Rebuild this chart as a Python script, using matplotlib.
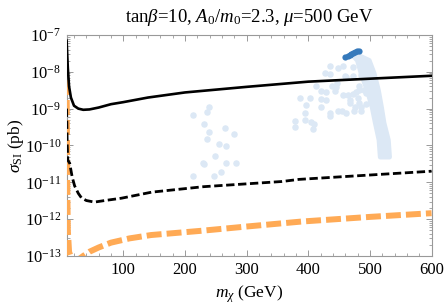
import matplotlib
matplotlib.use("Agg")
import matplotlib.pyplot as plt
from matplotlib.ticker import MultipleLocator, LogLocator, NullFormatter

plt.rcParams['font.family'] = ['Liberation Serif', 'DejaVu Serif']
plt.rcParams['mathtext.fontset'] = 'custom'
plt.rcParams['mathtext.rm'] = 'Liberation Serif'
plt.rcParams['mathtext.it'] = 'Liberation Serif:italic'
plt.rcParams['mathtext.bf'] = 'Liberation Serif:bold'

# limit curves: mass (GeV) and sigma_SI (pb)
solid_m = [8, 10, 12, 15, 20, 27, 35, 45, 60, 80, 100, 140, 200, 300, 400, 500, 600]
solid_s = [7.0e-8, 1.25e-8, 4.0e-9, 2.0e-9, 1.2e-9, 1.0e-9, 9.3e-10, 9.5e-10, 1.07e-9,
           1.32e-9, 1.5e-9, 2.0e-9, 2.75e-9, 3.9e-9, 5.4e-9, 6.5e-9, 7.8e-9]

dash_m = [8, 9, 10, 13, 17, 21, 27, 32, 40, 53, 70, 97, 146, 230, 357, 385, 600]
dash_s = [1.0e-9, 1.0e-10, 4.0e-11, 3.3e-11, 1.4e-11, 8.0e-12, 5.0e-12, 3.8e-12, 3.2e-12,
          2.9e-12, 3.2e-12, 3.7e-12, 5.4e-12, 7.6e-12, 1.05e-11, 1.2e-11, 2.0e-11]

orange_m = [8, 9, 10, 12, 15, 20, 27, 35, 45, 60, 80, 110, 145, 225, 300, 389, 500, 600]
orange_s = [6.0e-9, 1.0e-11, 5.0e-13, 1.3e-13, 9.0e-14, 7.5e-14, 8.0e-14, 1.0e-13, 1.3e-13,
            1.7e-13, 2.3e-13, 3.0e-13, 3.7e-13, 4.8e-13, 6.3e-13, 8.6e-13, 1.15e-12, 1.45e-12]

# scan points (light)
pts_m = [239, 213, 235, 231, 239, 265, 279, 235, 256, 266, 248, 230, 231, 266, 282, 258, 213, 247,
         435, 449, 457, 472, 427, 436, 460, 473, 485, 412, 438, 445, 482, 421, 428, 443, 457, 465,
         472, 478, 483, 491, 493, 387, 421, 429, 468, 467, 483, 494, 396, 420, 476, 486, 436, 436,
         448, 455, 461, 474, 485, 379, 395, 405, 410, 379, 407, 394, 402, 446, 462, 481]
pts_s = [1.1e-9, 6.6e-10, 7.9e-10, 3.8e-10, 2.3e-10, 2.9e-10, 2.1e-10, 1.5e-10, 1.07e-10,
         9.5e-11, 5.1e-11, 3.4e-11, 3.1e-11, 3.3e-11, 3.4e-11, 1.95e-11, 1.45e-11, 1.45e-11,
         1.44e-8, 1.29e-8, 1.41e-8, 1.32e-8, 9.1e-9, 8.5e-9, 7.8e-9, 7.7e-9, 8.2e-9, 4.1e-9,
         4.0e-9, 3.8e-9, 4.1e-9, 3.1e-9, 2.9e-9, 3.0e-9, 2.4e-9, 2.3e-9, 2.5e-9, 2.9e-9, 3.2e-9,
         3.3e-9, 2.7e-9, 2.0e-9, 1.8e-9, 1.7e-9, 1.7e-9, 1.38e-9, 1.38e-9, 1.31e-9, 1.23e-9,
         1.12e-9, 1.12e-9, 1.12e-9, 7.8e-10, 6.3e-10, 8.5e-10, 8.7e-10, 7.8e-10, 8.5e-10, 8.5e-10,
         4.6e-10, 4.9e-10, 4.4e-10, 3.8e-10, 3.2e-10, 2.8e-10, 7.4e-10, 2.0e-9, 4.9e-9, 7.4e-9,
         1.9e-9]

# dense strip of scan points: sigma, left and right mass edge
band_s = [2.8e-8, 2.1e-8, 9.3e-9, 3.2e-9, 1.1e-9, 4.2e-10, 1.45e-10, 5.0e-11]
band_lo = [472, 479, 485, 495, 503, 508, 514, 516]
band_hi = [482, 498, 506, 513, 518, 522, 529, 531]

# highlighted points
dark_m = [460, 464, 467, 470, 473, 476, 479, 482]
dark_s = [2.5e-8, 2.7e-8, 2.9e-8, 3.0e-8, 3.2e-8, 3.4e-8, 3.6e-8, 3.7e-8]

light = '#dce8f5'
fig = plt.figure(figsize=(4.44, 3.04), dpi=100)
ax = fig.add_axes([0.150, 0.158, 0.822, 0.727])

ax.fill_betweenx(band_s, band_lo, band_hi, color=light, ec=light, lw=3.5, joinstyle='round', zorder=1)
ax.scatter(pts_m, pts_s, s=22, color=light, lw=0, zorder=1)
ax.scatter(dark_m, dark_s, s=20, color='#3579bb', lw=0, zorder=2)

ax.plot(orange_m, orange_s, color='#ffaa55', lw=4.3, dashes=(2.5, 0.85), solid_capstyle='butt', zorder=3)
ax.plot(dash_m, dash_s, color='black', lw=2.0, dashes=(3.0, 1.3), zorder=4)
ax.plot(solid_m, solid_s, color='black', lw=1.9, zorder=5)

ax.set_yscale('log')
ax.set_xlim(8, 600)
ax.set_ylim(1e-13, 1e-7)
ax.xaxis.set_major_locator(MultipleLocator(100))
ax.xaxis.set_minor_locator(MultipleLocator(20))
ax.yaxis.set_major_locator(LogLocator(base=10, numticks=10))
ax.yaxis.set_minor_locator(LogLocator(base=10, subs=range(2, 10), numticks=20))
ax.yaxis.set_minor_formatter(NullFormatter())

for sp in ax.spines.values():
    sp.set_color('#999999')
    sp.set_linewidth(0.8)
ax.tick_params(which='both', direction='in', top=True, right=True, color='#999999',
               labelsize=12, pad=4)
ax.tick_params(which='major', length=4, width=0.7)
ax.tick_params(which='minor', length=2.2, width=0.6)

ax.set_title(r'tan$\beta$=10, $A_0/m_0$=2.3, $\mu$=500 GeV', fontsize=13.5, pad=9)
ax.set_xlabel(r'$m_\chi$ (GeV)', fontsize=12.5)
ax.set_ylabel(r'$\sigma_{\rm SI}$ (pb)', fontsize=12.5)
ax.yaxis.set_label_coords(-0.112, 0.5)

fig.savefig('out.png', dpi=100)
